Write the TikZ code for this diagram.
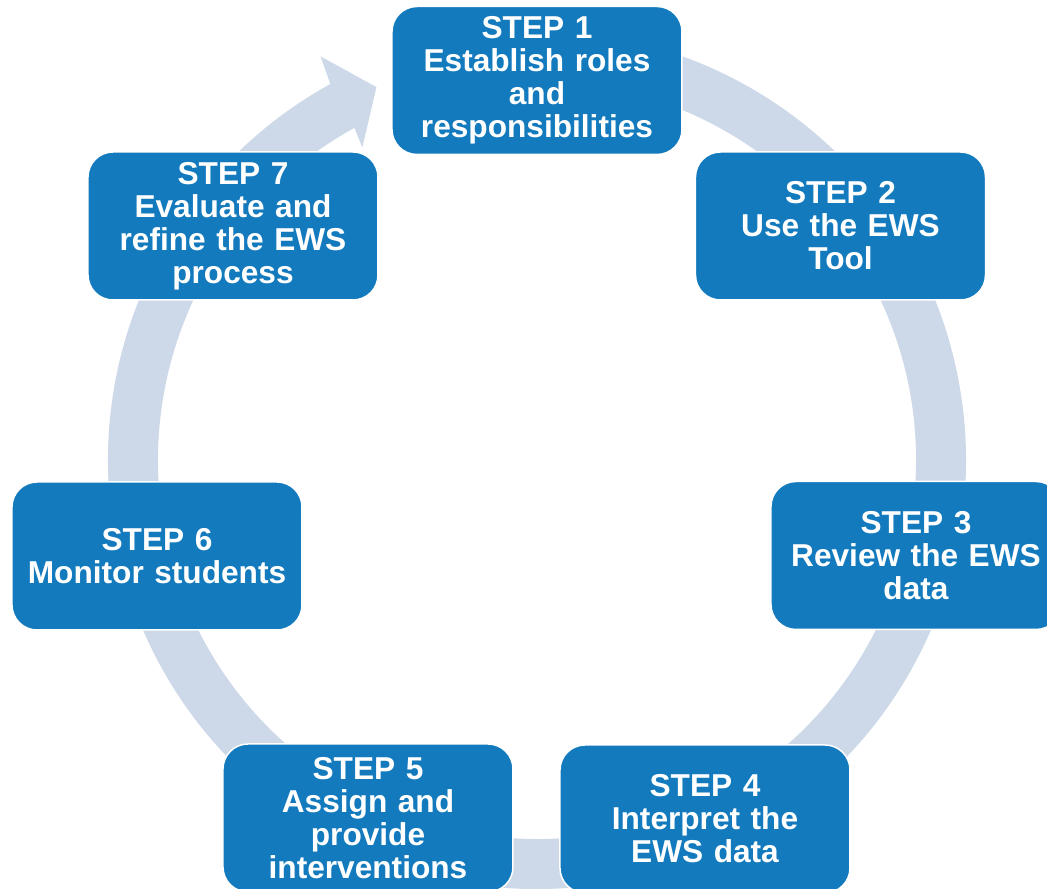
\documentclass[tikz,border=0pt]{standalone}
\usepackage{fontspec}
\setmainfont{Liberation Sans}
\usepackage{tikz}
\usetikzlibrary{shapes.geometric, arrows}
\usetikzlibrary{positioning}
\definecolor{stepBlue}{RGB}{18,122,189}
\definecolor{ringGray}{RGB}{205,216,232}
\tikzstyle{stepBox} = [rectangle, rounded corners=5mm, minimum width=58mm, minimum height=29.6mm, text width=56mm, align=center, inner sep=0pt, fill=stepBlue, draw=white, line width=0.3mm, text=white, font=\bfseries\fontsize{18}{18.8}\selectfont]
\tikzstyle{ring} = [fill=ringGray, draw=none]

\begin{document}
\begin{tikzpicture}[x = 0.2mm, y = 0.2mm]
                            \useasboundingbox (-537,-429) rectangle (510,460);
                            \fill [ring] (100:429) arc [start angle = 100, end angle = -241.2, radius = 429]
                                -- (118.2:458) -- (113.3:406) -- (119.2:358) -- (118.8:379)
                                arc [start angle = -241.2, end angle = 100, radius = 379] -- cycle;
                            \node (s_1) [stepBox] at (0,379.5) {STEP 1\\Establish roles\\and\\responsibilities};
                            \node (s_2) [stepBox] at (303.5,234) {STEP 2\\Use the EWS\\Tool};
                            \node (s_3) [stepBox] at (379,-95.5) {STEP 3\\Review the EWS\\data};
                            \node (s_4) [stepBox] at (168,-359) {STEP 4\\Interpret the\\EWS data};
                            \node (s_5) [stepBox] at (-169,-358) {STEP 5\\Assign and\\provide\\interventions};
                            \node (s_6) [stepBox] at (-380,-96) {STEP 6\\Monitor students};
                            \node (s_7) [stepBox] at (-304,234) {STEP 7\\Evaluate and\\refine the EWS\\process};
                        \end{tikzpicture}
\end{document}
